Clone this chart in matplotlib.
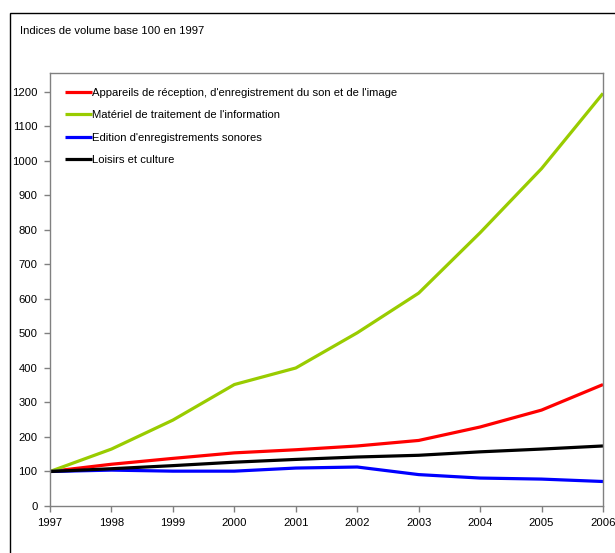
import matplotlib
matplotlib.use("Agg")
import matplotlib.pyplot as plt
from matplotlib.patches import Rectangle

plt.rcParams["font.family"] = ["Liberation Sans", "DejaVu Sans"]

years = [1997, 1998, 1999, 2000, 2001, 2002, 2003, 2004, 2005, 2006]
appareils = [100, 121, 138, 154, 163, 174, 190, 229, 278, 352]
materiel = [100, 165, 249, 352, 400, 502, 617, 792, 978, 1196]
edition = [100, 104, 101, 101, 110, 113, 91, 81, 78, 71]
loisirs = [100, 108, 117, 127, 135, 142, 147, 157, 165, 174]

series = [
    ("Appareils de réception, d'enregistrement du son et de l'image", appareils, "#ff0000"),
    ("Matériel de traitement de l'information", materiel, "#99cc00"),
    ("Edition d'enregistrements sonores", edition, "#0000ff"),
    ("Loisirs et culture", loisirs, "#000000"),
]

W, H = 615, 553
fig = plt.figure(figsize=(W / 100, H / 100), dpi=100)
# plot area: x 50..603, y 73..506 in pixels
ax = fig.add_axes([50 / W, 1 - 506 / H, 553 / W, 433 / H])

for label, vals, color in series:
    ax.plot(years, vals, color=color, linewidth=2.3, label=label, solid_capstyle="butt")

ax.set_xlim(1997, 2006)
ax.set_ylim(0, 1255)
ax.set_xticks(years)
ax.set_yticks(range(0, 1201, 100))
ax.tick_params(labelsize=8.1, length=4, color="#808080", width=1, direction="out", pad=5)
for s in ax.spines.values():
    s.set_color("#808080")
    s.set_linewidth(1)

ax.legend(loc="upper left", bbox_to_anchor=(15 / 553, 1 - 14.5 / 433), frameon=False,
          fontsize=8.1, handlelength=2.4, handletextpad=0.0, labelspacing=1.12,
          borderaxespad=0.0, borderpad=0.0)

fig.text(20 / W, 1 - 31 / H, "Indices de volume base 100 en 1997", fontsize=8.1, va="center")

fig.patches.append(Rectangle((10 / W, -0.01), 1.0, 1 - 13 / H + 0.01,
                             transform=fig.transFigure, fill=False,
                             edgecolor="black", linewidth=1))

fig.savefig("out.png", dpi=100)
